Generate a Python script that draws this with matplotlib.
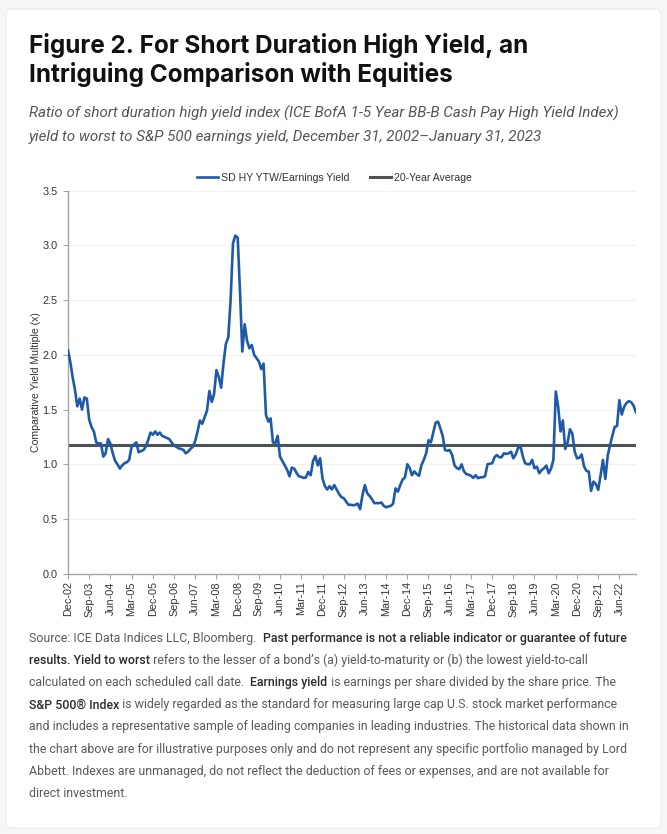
import numpy as np
import pandas as pd
import matplotlib
matplotlib.use("Agg")
import matplotlib.pyplot as plt
import matplotlib.dates as mdates
from matplotlib.patches import FancyBboxPatch

# monthly series, Dec 2002 .. Jan 2023
dates = pd.date_range("2002-12-31", periods=242, freq="ME")
ratio = [
    2.04, 1.93, 1.80, 1.68, 1.53, 1.60, 1.50, 1.61, 1.60, 1.41, 1.34, 1.30,
    1.20, 1.19, 1.19, 1.07, 1.10, 1.23, 1.19, 1.10, 1.03, 1.00, 0.96, 0.99,
    1.01, 1.02, 1.04, 1.16, 1.18, 1.20, 1.11, 1.12, 1.13, 1.16, 1.22, 1.29,
    1.27, 1.30, 1.27, 1.29, 1.26, 1.25, 1.24, 1.23, 1.20, 1.17, 1.16, 1.145,
    1.14, 1.13, 1.10, 1.115, 1.14, 1.16, 1.21, 1.30, 1.40, 1.37, 1.43, 1.49,
    1.67, 1.57, 1.64, 1.86, 1.80, 1.70, 1.92, 2.10, 2.16, 2.50, 3.02, 3.09,
    3.07, 2.55, 2.03, 2.28, 2.13, 2.06, 2.09, 2.00, 1.97, 1.94, 1.87, 1.92,
    1.45, 1.39, 1.42, 1.20, 1.19, 1.26, 1.07, 1.03, 0.99, 0.95, 0.89, 0.97,
    0.96, 0.92, 0.89, 0.885, 0.875, 0.88, 0.93, 0.90, 1.03, 1.075, 0.99, 1.055,
    0.87, 0.80, 0.77, 0.80, 0.77, 0.81, 0.77, 0.73, 0.70, 0.69, 0.66, 0.63,
    0.63, 0.625, 0.63, 0.64, 0.59, 0.72, 0.81, 0.735, 0.71, 0.68, 0.645, 0.645,
    0.645, 0.65, 0.62, 0.607, 0.614, 0.62, 0.64, 0.78, 0.75, 0.81, 0.86, 0.88,
    1.00, 0.965, 0.90, 0.935, 0.91, 0.895, 0.99, 1.04, 1.10, 1.22, 1.20, 1.29,
    1.38, 1.39, 1.33, 1.26, 1.13, 1.124, 1.13, 1.085, 0.99, 0.965, 0.955, 1.00,
    0.935, 0.91, 0.905, 0.895, 0.875, 0.90, 0.873, 0.88, 0.882, 0.89, 1.00, 1.005,
    1.01, 1.065, 1.085, 1.064, 1.064, 1.10, 1.094, 1.10, 1.115, 1.054, 1.09, 1.15,
    1.165, 1.07, 1.01, 1.00, 1.00, 1.04, 0.963, 0.978, 0.918, 0.948, 0.963, 0.988,
    0.918, 0.963, 1.04, 1.665, 1.53, 1.30, 1.40, 1.14, 1.20, 1.32, 1.28, 1.115,
    1.054, 1.06, 1.09, 0.98, 0.94, 0.933, 0.757, 0.842, 0.818, 0.766, 0.90, 1.04,
    0.866, 1.08, 1.17, 1.26, 1.34, 1.35, 1.586, 1.455, 1.525, 1.56, 1.577, 1.567,
    1.535, 1.474,
]
average = 1.18
yticks = [0.0, 0.5, 1.0, 1.5, 2.0, 2.5, 3.0, 3.5]

title = "Figure 2. For Short Duration High Yield, an\nIntriguing Comparison with Equities"
subtitle = ["Ratio of short duration high yield index (ICE BofA 1-5 Year BB-B Cash Pay High Yield Index)",
            "yield to worst to S&P 500 earnings yield, December 31, 2002\u2013January 31, 2023"]
notes = [
    [("Source: ICE Data Indices LLC, Bloomberg.  ", False),
     ("Past performance is not a reliable indicator or guarantee of future", True)],
    [("results. Yield to worst", True),
     (" refers to the lesser of a bond\u2019s (a) yield-to-maturity or (b) the lowest yield-to-call", False)],
    [("calculated on each scheduled call date.  ", False), ("Earnings yield", True),
     (" is earnings per share divided by the share price. The", False)],
    [("S&P 500\u00ae Index", True),
     (" is widely regarded as the standard for measuring large cap U.S. stock market performance", False)],
    [("and includes a representative sample of leading companies in leading industries. The historical data shown in", False)],
    [("the chart above are for illustrative purposes only and do not represent any specific portfolio managed by Lord", False)],
    [("Abbett. Indexes are unmanaged, do not reflect the deduction of fees or expenses, and are not available for", False)],
    [("direct investment.", False)],
]

W, H = 667, 834
fig = plt.figure(figsize=(W / 100, H / 100), dpi=100)
fig.patch.set_facecolor("#f6f6f6")

card = FancyBboxPatch((6 / W, 1 - 828 / H), 655 / W, 819 / H,
                      boxstyle="round,pad=0,rounding_size=0.008",
                      transform=fig.transFigure, facecolor="white",
                      edgecolor="#ececec", linewidth=0.8, zorder=-5)
fig.patches.append(card)

fig.text(29 / W, 1 - 33 / H, title, fontsize=17.5, fontweight="bold",
         family="Inter", color="#111111", va="top", linespacing=1.22)
for i, line in enumerate(subtitle):
    fig.text(29 / W, 1 - (118 + 23.5 * i) / H, line, fontsize=10.9,
             style="italic", family="Roboto", color="#555555", va="baseline")

ax = fig.add_axes([68 / W, 1 - 573.7 / H, 568 / W, 383 / H])
ax.set_zorder(2)
ax.patch.set_alpha(0)
ax.plot(dates, ratio, color="#1e5aa8", lw=1.9, label="SD HY YTW/Earnings Yield",
        solid_joinstyle="round", zorder=3)
ax.axhline(average, color="#4b5355", lw=2.2, label="20-Year Average", zorder=2)

ax.set_ylim(0, 3.5)
ax.set_yticks(yticks)
ax.set_yticklabels([f"{v:.1f}" for v in yticks])
ax.set_xlim(dates[0], dates[-1])
ax.set_xticks(dates[::9])
ax.xaxis.set_major_formatter(mdates.DateFormatter("%b-%y"))
ax.grid(axis="y", color="#f0f0f0", lw=0.8)
ax.set_axisbelow(True)
for s in ("top", "right"):
    ax.spines[s].set_visible(False)
for s in ("left", "bottom"):
    ax.spines[s].set_color("#a6a6a6")
    ax.spines[s].set_linewidth(1.0)
ax.tick_params(axis="both", colors="#a6a6a6", labelcolor="#333333",
               labelsize=7.8, length=3.5)
ax.tick_params(axis="x", labelrotation=90, pad=2)
ax.tick_params(axis="y", pad=4)
for lab in ax.get_xticklabels() + ax.get_yticklabels():
    lab.set_family("Liberation Sans")
ax.set_ylabel("Comparative Yield Multiple (x)", fontsize=7.6,
              family="Liberation Sans", color="#333333", labelpad=1)

leg = fig.legend(loc="center", bbox_to_anchor=(334.5 / W, 1 - 178 / H), ncol=2,
                 frameon=False, handlelength=2.0, handletextpad=0.25,
                 columnspacing=2.0, prop={"family": "Liberation Sans", "size": 7.6})
for t in leg.get_texts():
    t.set_color("#333333")

# footnote with mixed bold / regular runs
renderer = fig.canvas.get_renderer()


def run_width(text, bold, size):
    weight = "medium" if bold else "normal"
    probe = fig.text(0, 0, text + ".", fontsize=size, family="Roboto", fontweight=weight)
    dot = fig.text(0, 0, ".", fontsize=size, family="Roboto", fontweight=weight)
    w = probe.get_window_extent(renderer).width - dot.get_window_extent(renderer).width
    probe.remove()
    dot.remove()
    return w


note_size = 8.95
for i, line in enumerate(notes):
    x = 29.0
    y = 1 - (642 + 22.1 * i) / H
    for text, bold in line:
        fig.text(x / W, y, text, fontsize=note_size, family="Roboto",
                 fontweight="medium" if bold else "normal",
                 color="#2b2b2b" if bold else "#5a5a5a", va="baseline")
        x += run_width(text, bold, note_size)

fig.savefig("out.png", dpi=100, facecolor=fig.get_facecolor())
